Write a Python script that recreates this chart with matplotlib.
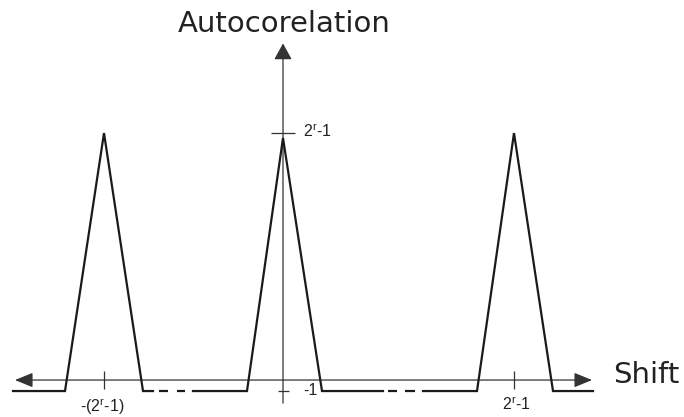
import matplotlib
matplotlib.use("Agg")
import matplotlib.pyplot as plt
from matplotlib.patches import FancyArrowPatch

# autocorrelation of a periodic m-sequence, sketch style
# x in shift units (1 unit ~ 10 px), y in correlation units
peak_left_x = [-27.0, -21.8, -17.9, -14.0, -13.0]
peak_left_y = [-1, -1, 22.45, -1, -1]
peak_mid_x = [-9.0, -3.6, 0.0, 3.9, 10.0]
peak_mid_y = [-1, -1, 22.0, -1, -1]
peak_right_x = [14.0, 19.4, 23.1, 27.0, 31.0]
peak_right_y = [-1, -1, 22.45, -1, -1]

# short dashes between the peaks (start, end) at the -1 level
dash_start = [-12.4, -10.6, 10.5, 12.2]
dash_end = [-11.5, -9.8, 11.4, 13.2]
low_level = -1

xtick_pos = [-17.9, 23.1]
xtick_labels = [r'-($\mathregular{2^r}$-1)', r'$\mathregular{2^r}$-1']
ytick_pos = [22.5, -1]
ytick_labels = [r'$\mathregular{2^r}$-1', '-1']

line_col = '#1a1a1a'
axis_col = '#333333'

fig = plt.figure(figsize=(6.84, 4.17), dpi=100)
ax = fig.add_axes([0, 0, 1, 1])
ax.set_xlim(-28.3, 40.1)
ax.set_ylim(-3.36, 34.55)
ax.axis('off')

# axes with arrows
xaxis = FancyArrowPatch((-26.8, 0), (30.9, 0),
                        arrowstyle='<|-|>,head_length=1.1,head_width=0.45',
                        mutation_scale=10, lw=0.9, color=axis_col,
                        shrinkA=0, shrinkB=0)
yaxis = FancyArrowPatch((0, -2.1), (0, 30.6),
                        arrowstyle='-|>,head_length=1.0,head_width=0.55',
                        mutation_scale=10, lw=0.9, color=axis_col,
                        shrinkA=0, shrinkB=0)
ax.add_patch(xaxis)
ax.add_patch(yaxis)

# ticks
ax.vlines(xtick_pos, -0.85, 0.85, color=axis_col, lw=0.9)
ax.hlines(ytick_pos[0], -1.2, 1.2, color=axis_col, lw=0.9)
ax.hlines(ytick_pos[1], -0.55, 0.55, color=axis_col, lw=0.9)

# the curve
for xs, ys in [(peak_left_x, peak_left_y), (peak_mid_x, peak_mid_y),
               (peak_right_x, peak_right_y)]:
    ax.plot(xs, ys, color=line_col, lw=1.6, solid_joinstyle='miter')
ax.hlines([low_level] * len(dash_start), dash_start, dash_end,
          color=line_col, lw=1.6)

# labels
tick_font = dict(family='Liberation Sans', fontsize=11.5, color='#222222')
ax.text(xtick_pos[0] - 0.15, -2.9, xtick_labels[0], ha='center', va='baseline', **tick_font)
ax.text(xtick_pos[1] + 0.25, -2.75, xtick_labels[1], ha='center', va='baseline', **tick_font)
ax.text(2.0, 22.1, ytick_labels[0], ha='left', va='baseline', **tick_font)
ax.text(2.0, -1.36, ytick_labels[1], ha='left', va='baseline', **tick_font)

big_font = dict(family='DejaVu Sans', fontsize=21, color='#222222')
ax.text(0.1, 31.64, 'Autocorelation', ha='center', va='baseline', **big_font)
ax.text(33.0, -0.27, 'Shift', ha='left', va='baseline', **big_font)

fig.savefig('out.png', dpi=100)
